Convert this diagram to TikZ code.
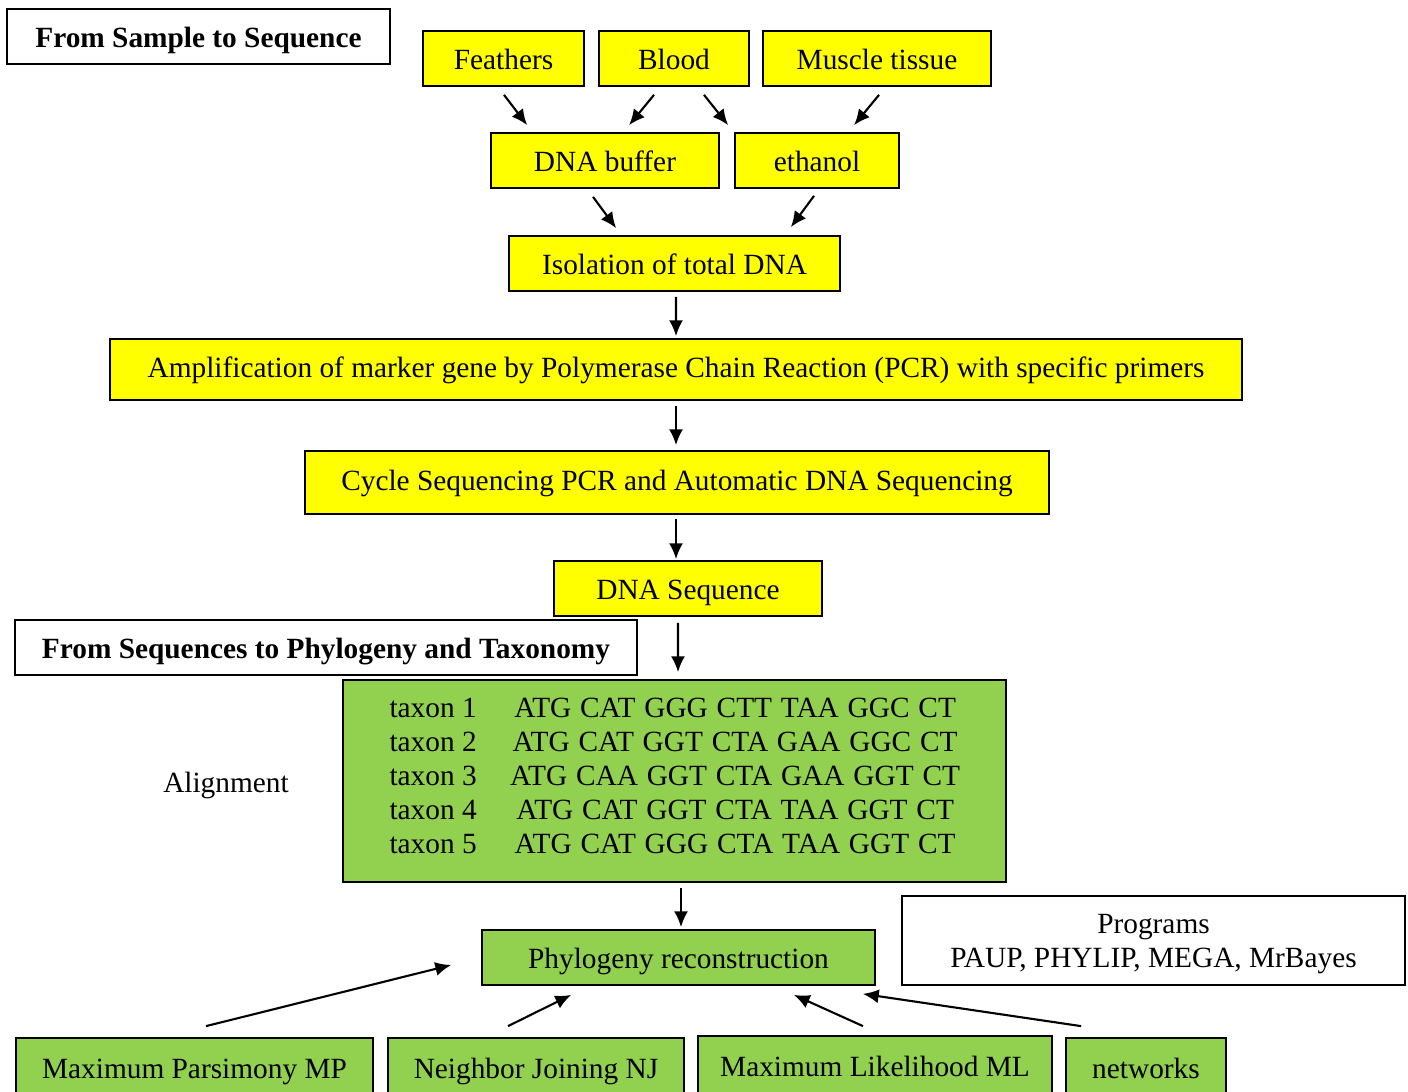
\documentclass[tikz,border=0pt]{standalone}
\usepackage{fontspec}
\setmainfont{Liberation Serif}
\usetikzlibrary{positioning, arrows.meta}

\definecolor{boxyellow}{HTML}{FFFF00}
\definecolor{boxgreen}{HTML}{92D050}

\begin{document}
\begin{tikzpicture}[x=0.02cm, y=-0.02cm, >=Latex,
    font=\fontsize{16.7pt}{19.3pt}\selectfont,
    wh/.style 2 args={minimum width=#1*0.02cm, minimum height=#2*0.02cm},
    box/.style={draw, line width=1pt, inner sep=0pt, align=center, text depth=0pt},
    ybox/.style={box, fill=boxyellow, text height=13pt},
    gbox/.style={box, fill=boxgreen, text height=13pt},
    title/.style={box, text height=13pt, font=\fontsize{16.7pt}{19.3pt}\selectfont\bfseries},
    arr/.style={line width=1.2pt, -{Latex[length=9pt, width=8pt]}}]
            \useasboundingbox (0,0) rectangle (1408,1091);

            % from sample to sequence
            \node[title, wh={383}{55}] (title1) at (198.5,36.5) {From Sample to Sequence};
            \node[ybox, wh={161}{55}] (feathers) at (503.5,58.5) {Feathers};
            \node[ybox, wh={150}{55}] (blood) at (674,58.5) {Blood};
            \node[ybox, wh={228}{55}] (muscle) at (877,58.5) {Muscle tissue};
            \node[ybox, wh={228}{55}] (dnabuf) at (605,160.5) {DNA buffer};
            \node[ybox, wh={164}{55}] (ethanol) at (817,160.5) {ethanol};
            \node[ybox, wh={331}{55}] (isolation) at (674.5,263.5) {Isolation of total DNA};
            \node[ybox, wh={1132}{61}, text height=9pt] (pcr) at (676,369.5) {Amplification of marker gene by Polymerase Chain Reaction (PCR) with specific primers};
            \node[ybox, wh={744}{63}, text height=9.5pt] (cycle) at (677,482.5) {Cycle Sequencing PCR and Automatic DNA Sequencing};
            \node[ybox, wh={268}{55}] (dnaseq) at (688,588.5) {DNA Sequence};

            \draw[arr] ([shift={(0.5,8)}]feathers.south) -- ([shift={(37,-7)}]dnabuf.north west);
            \draw[arr] ([shift={(-20,8)}]blood.south) -- ([shift={(139,-7)}]dnabuf.north west);
            \draw[arr] ([shift={(30,8)}]blood.south) -- ([shift={(-6,-7)}]ethanol.north west);
            \draw[arr] ([shift={(2,8)}]muscle.south) -- ([shift={(120,-7)}]ethanol.north west);
            \draw[arr] ([shift={(-12,8)}]dnabuf.south) -- ([shift={(108,-7)}]isolation.north west);
            \draw[arr] ([shift={(-3,7)}]ethanol.south) -- ([shift={(-50,-8)}]isolation.north east);
            \draw[arr] ([shift={(1.5,5)}]isolation.south) -- ([shift={(0,-2)}]pcr.north);
            \draw[arr] ([shift={(0,5)}]pcr.south) -- ([shift={(-1,-5)}]cycle.north);
            \draw[arr] ([shift={(-1,4)}]cycle.south) -- ([shift={(-12,-1)}]dnaseq.north);

            % from sequences to phylogeny
            \node[title, wh={622}{55}] (title2) at (326,647.5) {From Sequences to Phylogeny and Taxonomy};
            \node[gbox, wh={663}{202}] (align) at (674.5,781) {};
            \node (alignlbl) at (226,785) {Alignment};
            \foreach \i/\seq in {1/ATG CAT GGG CTT TAA GGC CT, 2/ATG CAT GGT CTA GAA GGC CT,
                3/ATG CAA GGT CTA GAA GGT CT, 4/ATG CAT GGT CTA TAA GGT CT, 5/ATG CAT GGG CTA TAA GGT CT}
            {
                \node (taxon\i) at ([shift={(91,29+34*\i-34)}]align.north west) {taxon \i};
                \node (seq\i) at ([shift={(393,29+34*\i-34)}]align.north west) {\spaceskip=0.3em\seq};
            }
            \node[gbox, wh={393}{55}] (phylo) at (678.5,957.5) {Phylogeny reconstruction};
            \node[box, wh={503}{89}] (programs) at (1153.5,940.5) {Programs\\PAUP, PHYLIP, MEGA, MrBayes};
            \node[gbox, wh={357}{58}] (mp) at (194.5,1067) {Maximum Parsimony MP};
            \node[gbox, wh={296}{58}] (nj) at (536,1067) {Neighbor Joining NJ};
            \node[gbox, wh={354}{58}] (ml) at (875,1065) {Maximum Likelihood ML};
            \node[gbox, wh={160}{58}] (networks) at (1146,1067) {networks};

            \draw[arr] ([shift={(-10,6)}]dnaseq.south) -- ([shift={(3.5,-7)}]align.north);
            \draw[arr] ([shift={(6.5,5)}]align.south) -- ([shift={(2.5,-2)}]phylo.north);
            \draw[arr] ([shift={(11.5,-11)}]mp.north) -- ([shift={(-30,7.5)}]phylo.west);
            \draw[arr] ([shift={(-28,-11)}]nj.north) -- ([shift={(90,9)}]phylo.south west);
            \draw[arr] ([shift={(-12,-9)}]ml.north) -- ([shift={(-82,9)}]phylo.south east);
            \draw[arr] ([shift={(16,-11)}]networks.north west) -- ([shift={(-13,8)}]phylo.south east);
        \end{tikzpicture}
\end{document}
